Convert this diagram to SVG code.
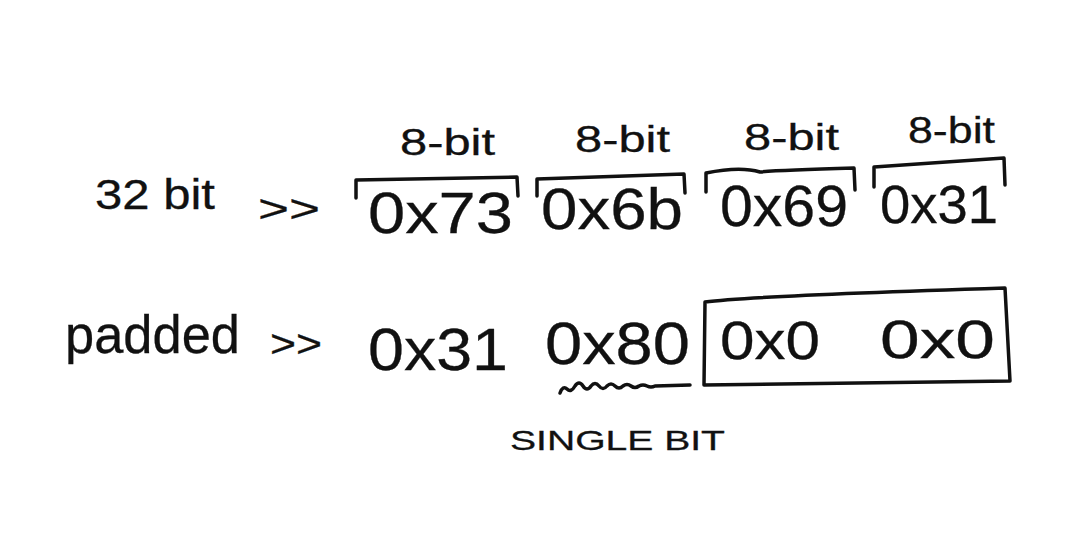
<svg xmlns="http://www.w3.org/2000/svg" width="1068" height="556" viewBox="0 0 1068 556">
<style>
.t{font-family:"Liberation Sans",Arial,sans-serif;fill:#111;stroke:#111;stroke-width:0.3}
.b{fill:none;stroke:#111;stroke-width:3.5;stroke-linecap:round;stroke-linejoin:round}
</style>
<rect width="1068" height="556" fill="#fff"/>
<g id="row1-label">
<text class="t" x="95" y="209" font-size="42" textLength="120" lengthAdjust="spacingAndGlyphs">32 bit</text>
<text class="t" x="258" y="222" font-size="38" textLength="62" lengthAdjust="spacingAndGlyphs">&gt;&gt;</text>
</g>
<g id="byte1">
<text class="t" x="400" y="155" font-size="36" textLength="95" lengthAdjust="spacingAndGlyphs">8-bit</text>
<path class="b" d="M356 198 L356 180 L517 177 L518 196"/>
<text class="t" x="368" y="233" font-size="58" textLength="145" lengthAdjust="spacingAndGlyphs">0x73</text>
</g>
<g id="byte2">
<text class="t" x="575" y="152" font-size="36" textLength="95" lengthAdjust="spacingAndGlyphs">8-bit</text>
<path class="b" d="M537 196 L537 179 L684 174 L685 193"/>
<text class="t" x="541" y="229" font-size="58" textLength="142" lengthAdjust="spacingAndGlyphs">0x6b</text>
</g>
<g id="byte3">
<text class="t" x="744" y="150" font-size="36" textLength="95" lengthAdjust="spacingAndGlyphs">8-bit</text>
<path class="b" d="M706 192 L706 173 Q740 166 760 172 Q780 170 854 168 L855 190"/>
<text class="t" x="720" y="226" font-size="58" textLength="128" lengthAdjust="spacingAndGlyphs">0x69</text>
</g>
<g id="byte4">
<text class="t" x="908" y="143" font-size="36" textLength="87" lengthAdjust="spacingAndGlyphs">8-bit</text>
<path class="b" d="M874 187 L874 167 L1004 158 L1005 185"/>
<text class="t" x="880" y="223" font-size="54" textLength="118" lengthAdjust="spacingAndGlyphs">0x31</text>
</g>
<g id="row2-label">
<text class="t" x="65" y="353" font-size="54" textLength="175" lengthAdjust="spacingAndGlyphs">padded</text>
<text class="t" x="270" y="357" font-size="38" textLength="52" lengthAdjust="spacingAndGlyphs">&gt;&gt;</text>
</g>
<g id="pad1">
<text class="t" x="368" y="370" font-size="60" textLength="140" lengthAdjust="spacingAndGlyphs">0x31</text>
</g>
<g id="pad2">
<text class="t" x="545" y="364" font-size="60" textLength="145" lengthAdjust="spacingAndGlyphs">0x80</text>
</g>
<g id="zero-box">
<path class="b" d="M704 385 L705 302 Q750 296 1005 288 L1010 381 Z"/>
<text class="t" x="720" y="359" font-size="54" textLength="100" lengthAdjust="spacingAndGlyphs">0x0</text>
<text class="t" x="880" y="358" font-size="54" textLength="115" lengthAdjust="spacingAndGlyphs">0x0</text>
</g>
<g id="connectors">
<path class="b" stroke-width="2.5" d="M560 393 Q563 385 567 389 Q571 393 575 386 Q579 380 583 386 Q587 392 591 386 Q595 381 599 386 Q603 391 607 386 Q611 382 615 386 Q619 390 623 386 Q627 383 631 386 Q635 389 639 386 Q643 384 647 386 Q651 388 655 386 L690 385"/>
</g>
<g id="note">
<text class="t" x="510" y="450" font-size="28" stroke-width="0.2" textLength="215" lengthAdjust="spacingAndGlyphs">SINGLE BIT</text>
</g>
</svg>
